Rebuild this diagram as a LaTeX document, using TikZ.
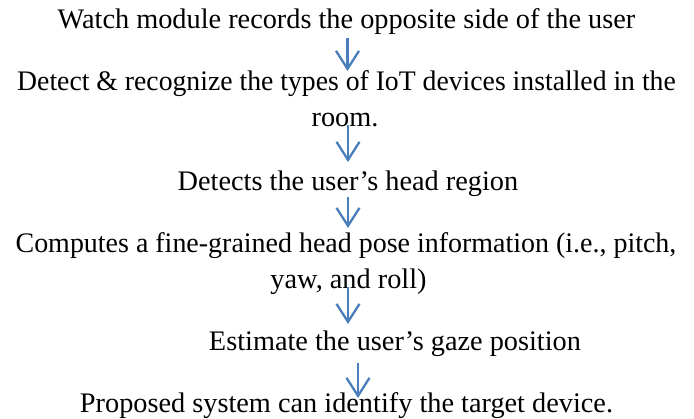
\documentclass[tikz,border=0pt]{standalone}
\usepackage{fontspec}
\setmainfont{Liberation Serif}
\usetikzlibrary{arrows.meta}
\definecolor{arrowblue}{RGB}{74,126,187}
\tikzset{
  txt/.style={anchor=base, inner sep=0pt, font=\fontsize{28.3}{36}\selectfont},
  flow/.style={draw=arrowblue, line width=2.3pt,
    -{Straight Barb[length=18pt,width=23pt,line width=2.3pt]}}
}
\begin{document}
\begin{tikzpicture}[x=1pt,y=-1pt]
\useasboundingbox[fill=white] (0,0) rectangle (694,419);
\node[txt] (t1) at (346.5,29) {Watch module records the opposite side of the user};
\node[txt] (t2) at (346.5,91) {\scalebox{0.979}[1]{Detect \& recognize the types of IoT devices installed in the}};
\node[txt] (t2b) at (345,127) {room.};
\node[txt] (t3) at (348,191) {Detects the user’s head region};
\node[txt] (t4) at (346,253) {\scalebox{0.988}[1]{Computes a fine-grained head pose information (i.e., pitch,}};
\node[txt] (t4b) at (348.5,289) {yaw, and roll)};
\node[txt] (t5) at (395,351) {Estimate the user’s gaze position};
\node[txt] (t6) at (346.5,413) {Proposed system can identify the target device.};
\coordinate (a1s) at (347.5,38);  \coordinate (a1e) at (347.5,71);
\coordinate (a2s) at (348,125);   \coordinate (a2e) at (348,162);
\coordinate (a3s) at (348,197);   \coordinate (a3e) at (348,228);
\coordinate (a4s) at (348,287);   \coordinate (a4e) at (348,324);
\coordinate (a5s) at (358,363);   \coordinate (a5e) at (358,398);
\draw[flow] (a1s) -- (a1e);
\draw[flow] (a2s) -- (a2e);
\draw[flow] (a3s) -- (a3e);
\draw[flow] (a4s) -- (a4e);
\draw[flow] (a5s) -- (a5e);
\end{tikzpicture}
\end{document}
